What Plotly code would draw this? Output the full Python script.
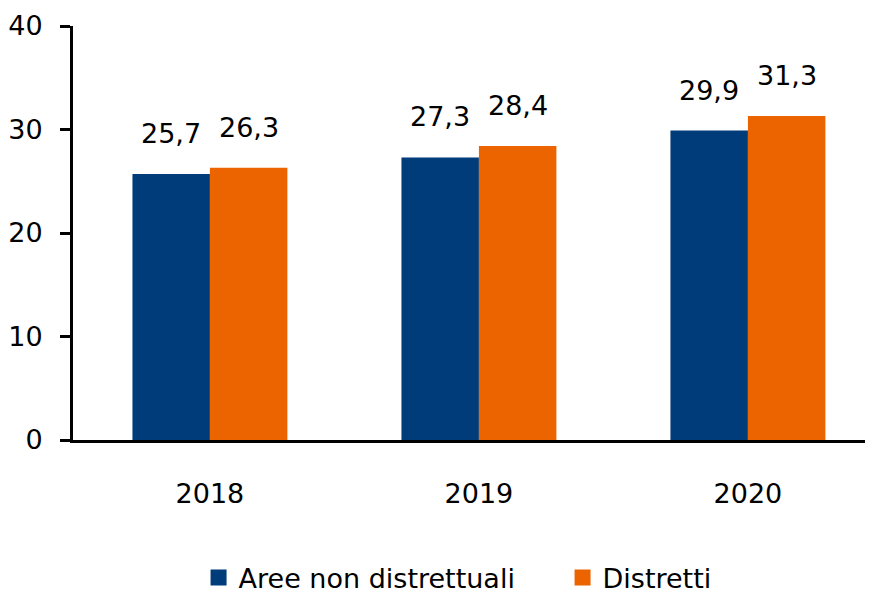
import plotly.graph_objects as go

years = ["2018", "2019", "2020"]
aree_non_distrettuali = [25.7, 27.3, 29.9]
distretti = [26.3, 28.4, 31.3]
series_names = ["Aree non distrettuali", "Distretti"]
colors = ["#003B7A", "#EC6400"]
y_ticks = [0, 10, 20, 30, 40]

FONT = "DejaVu Sans"
FS = 27
W, H = 865, 586  # page body adds an 8px offset

fig = go.Figure()
for name, vals, col in zip(series_names, [aree_non_distrettuali, distretti], colors):
    fig.add_trace(go.Bar(x=years, y=vals, name=name, showlegend=False,
                         marker=dict(color=col, line=dict(width=0))))
# legend entries with larger square swatches
for name, col in zip(series_names, colors):
    fig.add_trace(go.Scatter(x=[None], y=[None], mode="markers", name=name,
                             marker=dict(symbol="square", size=20, color=col)))

bar_px = 78
for vals, shift in [(aree_non_distrettuali, -bar_px / 2), (distretti, bar_px / 2)]:
    for i, v in enumerate(vals):
        fig.add_annotation(x=i, y=v, xref="x", yref="y", text=f"{v:.1f}".replace(".", ","),
                           showarrow=False, xshift=shift, yshift=23, yanchor="bottom",
                           font=dict(family=FONT, size=FS, color="#000000"))

fig.update_layout(
    width=W, height=H,
    margin=dict(l=65, r=0, t=18, b=154, autoexpand=False),
    paper_bgcolor="white", plot_bgcolor="white",
    barmode="group", bargap=0.424, bargroupgap=0,
    font=dict(family=FONT, size=FS, color="#000000"),
    showlegend=True,
    legend=dict(orientation="h", xref="container", yref="container",
                x=0.2203, xanchor="left", y=0.0273, yanchor="middle",
                font=dict(family=FONT, size=FS), itemsizing="trace", itemwidth=30,
                entrywidth=319),
    xaxis=dict(type="category", range=[-0.509, 2.465], showline=True, linecolor="black", linewidth=3,
               ticks="", showgrid=False, tickfont=dict(family=FONT, size=FS),
               ticklabelstandoff=28, automargin=False, ticklabeloverflow="allow"),
    yaxis=dict(range=[0, 40], tickvals=y_ticks, showline=True, linecolor="black", linewidth=3,
               ticks="outside", ticklen=10, tickwidth=3, tickcolor="black", showgrid=False,
               zeroline=False, tickfont=dict(family=FONT, size=FS), ticklabelstandoff=12,
               automargin=False, ticklabeloverflow="allow"),
)

fig.write_html("out.html")
